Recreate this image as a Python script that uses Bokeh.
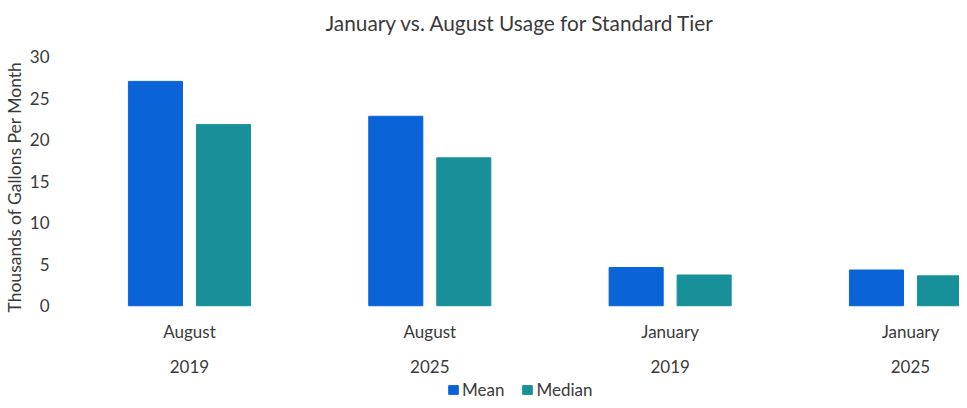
from bokeh.plotting import figure
from bokeh.models import (Range1d, FixedTicker, Legend, LegendItem,
                          ColumnDataSource, Title)
from bokeh.core.properties import value
from bokeh.transform import dodge
from bokeh.embed import file_html
from bokeh.resources import INLINE

# ---- data ----
months = ["August", "August", "January", "January"]
years = ["2019", "2025", "2019", "2025"]
mean_vals = [27.0, 22.8, 4.6, 4.3]
median_vals = [21.8, 17.8, 3.7, 3.6]
y_ticks = [0, 5, 10, 15, 20, 25, 30]
series_names = ["Mean", "Median"]
colors = ["#0A64D8", "#18909A"]

idx = list(range(len(months)))
src = ColumnDataSource(dict(x=idx, mean=mean_vals, median=median_vals,
                            month=months, year=years))

FONT = "Lato"
TXT = "#3a3a3a"

# frame runs down to the bottom; category rows & legend live under y=0
p = figure(width=959, height=400,
           x_range=Range1d(-0.545, 3.204), y_range=Range1d(-11.4, 31.8),
           x_axis_type=None,
           output_backend="svg", toolbar_location=None,
           min_border_left=52, min_border_right=0, min_border_top=40,
           min_border_bottom=0)

r1 = p.vbar(x=dodge("x", -0.1415, range=p.x_range), top="mean", width=0.225,
            bottom=0, source=src, color=colors[0])
r2 = p.vbar(x=dodge("x", 0.1415, range=p.x_range), top="median", width=0.225,
            bottom=0, source=src, color=colors[1])

# category labels (month row and year row)
p.text(x="x", y=-3.12, text="month", source=src, text_align="center",
       text_baseline="middle", text_font=value(FONT), text_font_size="17px",
       text_color=TXT)
p.text(x="x", y=-7.32, text="year", source=src, text_align="center",
       text_baseline="middle", text_font=value(FONT), text_font_size="17px",
       text_color=TXT)

# title
p.title.text = "January vs. August Usage for Standard Tier"
p.title.align = "left"
p.title.offset = 267
p.title.vertical_align = "bottom"
p.title.text_font = FONT
p.title.text_font_size = "20.8px"
p.title.text_font_style = "normal"
p.title.text_color = TXT
p.title.standoff = 14

# y axis
ya = p.yaxis[0]
ya.ticker = FixedTicker(ticks=y_ticks)
ya.major_label_text_font = FONT
ya.major_label_text_font_size = "17px"
ya.major_label_text_color = TXT
ya.major_label_standoff = 9
ya.axis_line_color = None
ya.major_tick_line_color = None
ya.minor_tick_line_color = None
ya.major_tick_out = 0
ya.major_tick_in = 0

# y axis title, aligned with the 0..30 part of the axis
ytitle = Title(text="Thousands of Gallons Per Month", align="left", offset=88,
               text_font=FONT, text_font_size="17.5px", text_font_style="normal",
               text_color=TXT, standoff=3)
p.add_layout(ytitle, "left")

p.xgrid.grid_line_color = None
p.ygrid.grid_line_color = None
p.outline_line_color = None

legend = Legend(items=[LegendItem(label=series_names[0], renderers=[r1]),
                       LegendItem(label=series_names[1], renderers=[r2])],
                orientation="horizontal", location=(389, 0))
legend.label_text_font = FONT
legend.label_text_font_size = "17px"
legend.label_text_color = TXT
legend.glyph_width = 12
legend.glyph_height = 11
legend.label_height = 13
legend.spacing = 17
legend.label_standoff = 3
legend.padding = 0
legend.margin = 0
legend.border_line_color = None
legend.background_fill_alpha = 0
p.add_layout(legend, "center")

open("out.html", "w").write(file_html(p, INLINE))
